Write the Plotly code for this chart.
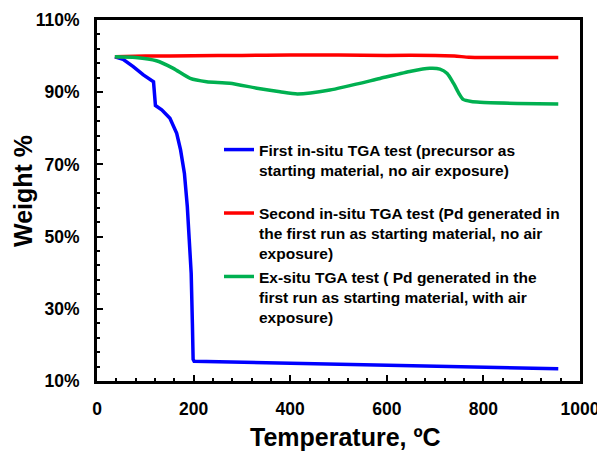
import plotly.graph_objects as go

# ---- data ----
blue_x = [37, 54, 75, 96, 117, 119, 121, 134, 151, 165, 173, 181, 187, 191, 195, 197.5, 199, 201, 300, 400, 500, 600, 700, 800, 880, 955]
blue_y = [99.8, 99.1, 97.1, 94.8, 92.9, 88.0, 86.3, 85.1, 82.8, 78.6, 74.0, 67.5, 58.3, 49.1, 39.8, 26.0, 16.0, 15.5, 15.2, 15.0, 14.8, 14.5, 14.2, 13.8, 13.6, 13.4]

red_x = [37, 100, 200, 300, 400, 500, 600, 700, 740, 770, 800, 900, 955]
red_y = [99.8, 100.0, 100.1, 100.2, 100.3, 100.3, 100.2, 100.2, 100.0, 99.7, 99.6, 99.6, 99.6]

green_x = [37, 80, 123, 158, 193, 227, 275, 331, 379, 415, 482, 586, 650, 689, 710, 725, 738, 750, 758, 775, 793, 870, 955]
green_y = [99.8, 99.6, 98.7, 96.6, 93.8, 92.9, 92.5, 91.1, 90.1, 89.5, 90.6, 93.8, 95.8, 96.6, 96.4, 95.2, 92.5, 89.5, 88.0, 87.4, 87.2, 86.9, 86.7]

names = [
    "First in-situ TGA test (precursor as<br>starting material, no air exposure)<br>\u00a0",
    "Second in-situ TGA test (Pd generated in<br>the first run as starting material, no air<br>exposure)",
    "Ex-situ TGA test ( Pd generated in the<br>first run as starting material, with air<br>exposure)",
]
colors = ["#0000FF", "#FF0000", "#00B050"]

y_ticks = [10, 30, 50, 70, 90, 110]
x_ticks = [0, 200, 400, 600, 800, 1000]

FONT = "Liberation Sans, Arial, sans-serif"

fig = go.Figure()
fig.add_trace(go.Scatter(x=blue_x, y=blue_y, mode="lines", name=names[0],
                         line=dict(color=colors[0], width=3.5)))
fig.add_trace(go.Scatter(x=red_x, y=red_y, mode="lines", name=names[1],
                         line=dict(color=colors[1], width=3.5, shape="spline", smoothing=0.6)))
fig.add_trace(go.Scatter(x=green_x, y=green_y, mode="lines", name=names[2],
                         line=dict(color=colors[2], width=3.5, shape="spline", smoothing=0.6)))

fig.update_layout(
    width=597, height=452,
    margin=dict(l=97, r=17, t=20, b=71, autoexpand=False),
    paper_bgcolor="white", plot_bgcolor="white",
    font=dict(family=FONT, color="black", size=16, weight="bold"),
    showlegend=True,
    legend=dict(
        x=(219 - 97) / 483, y=(381 - 133) / 361, xanchor="left", yanchor="top",
        bgcolor="rgba(0,0,0,0)", borderwidth=0, valign="top",
        font=dict(family=FONT, size=15.5, color="black", weight="bold"),
        tracegroupgap=0,
    ),
    xaxis=dict(
        range=[0, 1000], tickvals=x_ticks, ticks="inside", ticklen=6, tickwidth=2,
        tickcolor="black", showline=True, linecolor="black", linewidth=3, mirror=True,
        showgrid=False, zeroline=False, ticklabelstandoff=10, ticklabeloverflow="allow",
        automargin=False,
        tickfont=dict(family=FONT, size=17.5, color="black", weight="bold"),
        minor=dict(tickvals=list(range(40, 1000, 40)), ticks="inside", ticklen=3,
                   tickwidth=2, tickcolor="black", showgrid=False),
    ),
    yaxis=dict(
        range=[10, 110], tickvals=y_ticks, ticktext=[f"{v}%" for v in y_ticks],
        ticks="inside", ticklen=6, tickwidth=2,
        tickcolor="black", showline=True, linecolor="black", linewidth=3, mirror=True,
        showgrid=False, zeroline=False, ticklabelstandoff=11, ticklabeloverflow="allow",
        automargin=False,
        tickfont=dict(family=FONT, size=17.5, color="black", weight="bold"),
        minor=dict(tickvals=list(range(14, 110, 4)), ticks="inside", ticklen=3,
                   tickwidth=2, tickcolor="black", showgrid=False),
    ),
    annotations=[
        dict(text="Temperature, ºC", xref="paper", yref="paper",
             x=(345 - 97) / 483, y=(381 - 437) / 361, xanchor="center", yanchor="middle",
             showarrow=False, font=dict(family=FONT, size=25, color="black", weight="bold")),
        dict(text="Weight %", xref="paper", yref="paper", textangle=-90,
             x=(23 - 97) / 483, y=(381 - 191) / 361, xanchor="center", yanchor="middle",
             showarrow=False, font=dict(family=FONT, size=25, color="black", weight="bold")),
    ],
)

fig.write_html("out.html", config={"displayModeBar": False},
               post_script="document.body.style.margin='0';")
